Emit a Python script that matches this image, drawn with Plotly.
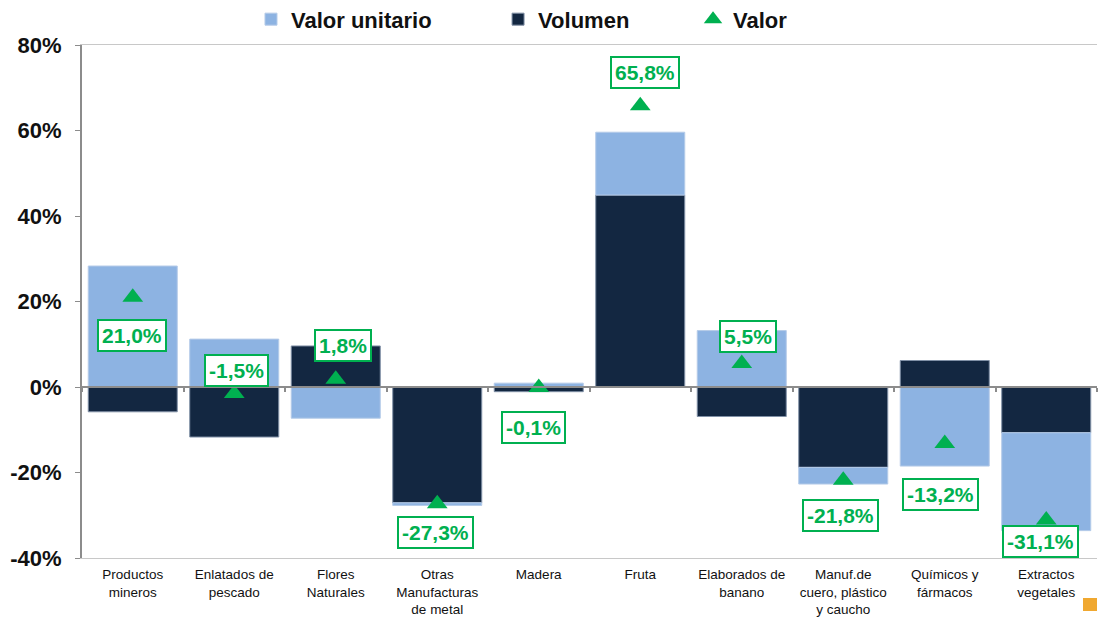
import plotly.graph_objects as go

categories = [
    "Productos<br>mineros",
    "Enlatados de<br>pescado",
    "Flores<br>Naturales",
    "Otras<br>Manufacturas<br>de metal",
    "Madera",
    "Fruta",
    "Elaborados de<br>banano",
    "Manuf.de<br>cuero, plástico<br>y caucho",
    "Químicos y<br>fármacos",
    "Extractos<br>vegetales",
]
volumen = [-5.8, -11.7, 9.6, -27.1, -1.1, 44.9, -6.9, -18.8, 6.2, -10.7]
valor_unitario = [28.3, 11.2, -7.3, -0.6, 0.9, 14.7, 13.2, -3.9, -18.5, -22.9]
valor = [21.0, -1.5, 1.8, -27.3, -0.1, 65.8, 5.5, -21.8, -13.2, -31.1]
y_ticks = [-40, -20, 0, 20, 40, 60, 80]

# label placement (pixel offsets from the marker)
label_dx = [-1, 2, 7, -2, -5, 5, 6, -3, -4, -6]
label_dy = [38, -23, -34, 29, 40, -33, -27, 35, 51, 22]

LIGHT = "#8DB3E2"
DARK = "#132741"
GREEN = "#00B050"
SANS = "Liberation Sans, Arial, sans-serif"

fig = go.Figure()
fig.add_trace(go.Bar(
    x=categories, y=volumen, name="Volumen", legend="legend2",
    marker=dict(color=DARK, line=dict(color="#8090A6", width=1)),
))
fig.add_trace(go.Bar(
    x=categories, y=valor_unitario, name="Valor unitario", legend="legend",
    marker=dict(color=LIGHT, line=dict(color="#B5CBE8", width=1)),
))
fig.add_trace(go.Scatter(
    x=categories, y=valor, name="Valor", mode="markers", legend="legend3",
    xaxis="x2", yaxis="y",
    marker=dict(symbol="triangle-up", size=18, color=GREEN),
))

def fmt(v):
    return f"{v:.1f}".replace(".", ",") + "%"

for c, v, dx, dy in zip(categories, valor, label_dx, label_dy):
    fig.add_annotation(
        x=c, y=v, xref="x", yref="y", text=fmt(v), showarrow=False,
        xshift=dx, yshift=-dy,
        font=dict(family=SANS, size=21, color=GREEN, weight="bold"),
        bgcolor="white", bordercolor=GREEN, borderwidth=2, borderpad=3,
    )

n = len(categories)

legend_style = dict(
    orientation="h", xanchor="left", y=1.05, yanchor="middle",
    font=dict(family=SANS, size=22, color="#111111", weight="bold"),
    bgcolor="rgba(0,0,0,0)",
)

fig.update_layout(
    width=1098, height=617,
    paper_bgcolor="white", plot_bgcolor="white",
    barmode="relative", bargap=0.123,
    margin=dict(l=82, r=1, t=45, b=59, autoexpand=False),
    showlegend=True,
    legend=dict(x=0.1665, **legend_style),
    legend2=dict(x=0.4099, **legend_style),
    legend3=dict(x=0.602, **legend_style),
    xaxis=dict(
        type="category", categoryarray=categories, range=[-0.5, n - 0.5], automargin=False,
        showline=True, mirror=True, linecolor="#C8C8C8", linewidth=1,
        showgrid=False, ticks="", zeroline=False,
        tickfont=dict(family=SANS, size=13.5, color="#111111"),
        ticklabelstandoff=4,
    ),
    xaxis2=dict(
        type="category", categoryarray=categories, overlaying="x",
        anchor="free", position=(0 - y_ticks[0]) / (y_ticks[-1] - y_ticks[0]),
        range=[-0.5, n - 0.5], showline=True, linecolor="#8C8C8C", linewidth=2,
        ticks="outside", ticklen=4, tickcolor="#8C8C8C", tickwidth=1.5,
        tickson="boundaries", showticklabels=False,
        showgrid=False, zeroline=False, automargin=False,
    ),
    yaxis=dict(
        range=[y_ticks[0], y_ticks[-1]], automargin=False,
        tickmode="array", tickvals=y_ticks, ticktext=[f"{t}%" for t in y_ticks],
        showline=True, linecolor="#8C8C8C", linewidth=2,
        ticks="outside", ticklen=5, tickcolor="#8C8C8C",
        showgrid=False, zeroline=True, zerolinecolor="#8C8C8C", zerolinewidth=2,
        tickfont=dict(family=SANS, size=22, color="#111111", weight="bold"),
        ticklabelstandoff=9,
    ),
    shapes=[dict(
        type="rect", xref="paper", yref="paper", layer="above",
        x0=0.9862, x1=1.0, y0=-0.1033, y1=-0.078,
        fillcolor="#F0A830", line=dict(width=0),
    )],
)

fig.write_html("out.html", post_script="document.body.style.margin='0';",
               config={"displayModeBar": False})
